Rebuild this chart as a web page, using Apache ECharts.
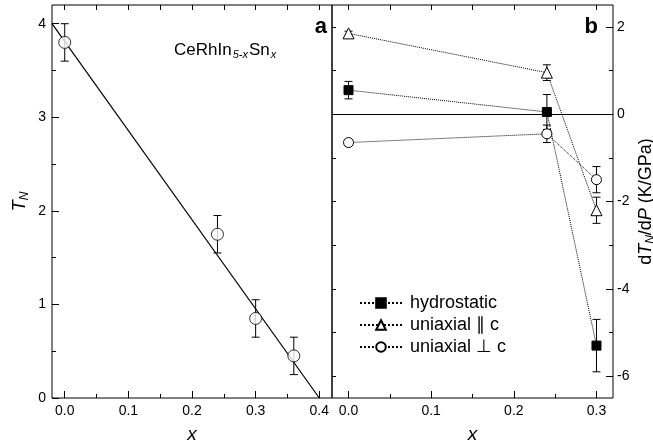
<!DOCTYPE html>
<html>
<head>
<meta charset="utf-8">
<script src="https://cdn.jsdelivr.net/npm/echarts@6/dist/echarts.min.js"></script>
<style>
html,body{margin:0;padding:0;background:#fff;}
#chart{width:653px;height:446px;}
</style>
</head>
<body>
<div id="chart"></div>
<script>
// ---- panel a : T_N vs x ----
var xA = [0, 0.24, 0.30, 0.36];
var tnA = [3.8, 1.75, 0.85, 0.45];
var tnErrA = [0.2, 0.2, 0.2, 0.2];
var fitX = [-0.02, 0.40];
var fitY = [4.0, 0.0];

// ---- panel b : dTN/dP vs x ----
var xB = [0, 0.24, 0.30];
var hydro = [0.55, 0.05, -5.3];
var hydroErr = [0.2, 0.4, 0.6];
var para = [1.85, 0.95, -2.2];
var paraErr = [0.05, 0.18, 0.3];
var perp = [-0.65, -0.45, -1.5];
var perpErr = [0.05, 0.2, 0.3];

// ticks
var xTicksA = [0, 0.1, 0.2, 0.3, 0.4];
var xMinorA = [0.05, 0.15, 0.25, 0.35];
var xTicksB = [0, 0.1, 0.2, 0.3];
var xMinorB = [0.05, 0.15, 0.25];
var yTicksA = [0, 1, 2, 3, 4];
var yMinorA = [0.5, 1.5, 2.5, 3.5];
var yTicksB = [-6, -4, -2, 0, 2];
var yMinorB = [-5, -3, -1, 1];

var FONT = 'Liberation Sans, Arial, sans-serif';

function fmt1(v){ return v.toFixed(1); }
function fmt0(v){ return v.toFixed(0); }

function makeAxis(grid, pos, min, max, ticks, len, labels, fmt){
	return {
		type: 'value', gridIndex: grid, position: pos, min: min, max: max,
		axisLine: {show: false, onZero: false},
		splitLine: {show: false},
		axisTick: {show: true, inside: true, length: len, customValues: ticks,
			lineStyle: {color: '#000', width: 1}},
		axisLabel: {show: !!labels, customValues: labels || [], formatter: fmt,
			color: '#000', fontSize: 14, fontFamily: FONT, margin: 6}
	};
}

function zip(xs, ys, es){
	var out = [];
	for (var i = 0; i < xs.length; i++) {
		out.push(es ? [xs[i], ys[i], es[i]] : [xs[i], ys[i]]);
	}
	return out;
}

// error bar with caps
function renderErr(params, api){
	var x = api.value(0), y = api.value(1), e = api.value(2);
	var top = api.coord([x, y + e]);
	var bot = api.coord([x, y - e]);
	var w = 4;
	var st = {stroke: '#000', lineWidth: 1};
	return {type: 'group', children: [
		{type: 'line', shape: {x1: top[0], y1: top[1], x2: bot[0], y2: bot[1]}, style: st},
		{type: 'line', shape: {x1: top[0] - w, y1: top[1], x2: top[0] + w, y2: top[1]}, style: st},
		{type: 'line', shape: {x1: bot[0] - w, y1: bot[1], x2: bot[0] + w, y2: bot[1]}, style: st}
	]};
}

var xAxA = makeAxis(0, 'bottom', -0.02, 0.42, xTicksA, 7, xTicksA, fmt1);
xAxA.name = 'x';
xAxA.nameLocation = 'middle';
xAxA.nameGap = 27;
xAxA.nameTextStyle = {fontStyle: 'italic', fontSize: 19, fontFamily: FONT, color: '#000'};
var xAxB = makeAxis(1, 'bottom', -0.02, 0.32, xTicksB, 7, xTicksB, fmt1);
xAxB.name = 'x';
xAxB.nameLocation = 'middle';
xAxB.nameGap = 27;
xAxB.nameTextStyle = {fontStyle: 'italic', fontSize: 19, fontFamily: FONT, color: '#000'};

var yAxA = makeAxis(0, 'left', 0, 4.2, yTicksA, 7, yTicksA, fmt0);
yAxA.name = '{i|T}{s|N}';
yAxA.nameLocation = 'middle';
yAxA.nameRotate = 90;
yAxA.nameGap = 22;
yAxA.nameTextStyle = {rich: {
	i: {fontStyle: 'italic', fontSize: 18, fontFamily: FONT, color: '#000', lineHeight: 20},
	s: {fontStyle: 'italic', fontSize: 12, fontFamily: FONT, color: '#000', lineHeight: 12, padding: [10, 0, 0, 0]}
}};
var yAxB = makeAxis(1, 'right', -6.5, 2.5, yTicksB, 7, yTicksB, fmt0);
yAxB.axisLabel.margin = 4;
yAxB.name = 'd{i|T}{s|N}/d{i|P} (K/GPa)';
yAxB.nameLocation = 'middle';
yAxB.nameRotate = 90;
yAxB.nameGap = 23;
yAxB.nameTextStyle = {fontSize: 18, fontFamily: FONT, color: '#000', lineHeight: 20, rich: {
	i: {fontStyle: 'italic', fontSize: 18, fontFamily: FONT, color: '#000', lineHeight: 20},
	s: {fontStyle: 'italic', fontSize: 12, fontFamily: FONT, color: '#000', lineHeight: 12, padding: [10, 0, 0, 0]}
}};

var chart = echarts.init(document.getElementById('chart'));
var option = {
	animation: false,
	backgroundColor: '#fff',
	grid: [
		{left: 52, top: 5, width: 280, height: 393, show: true, borderColor: '#000', borderWidth: 1,
			backgroundColor: 'transparent', containLabel: false, outerBoundsMode: 'none'},
		{left: 332, top: 5, width: 281, height: 393, show: true, borderColor: '#000', borderWidth: 1,
			backgroundColor: 'transparent', containLabel: false, outerBoundsMode: 'none'}
	],
	xAxis: [
		xAxA,
		makeAxis(0, 'bottom', -0.02, 0.42, xMinorA, 4),
		makeAxis(0, 'top', -0.02, 0.42, xTicksA.concat(xMinorA), 5),
		xAxB,
		makeAxis(1, 'bottom', -0.02, 0.32, xMinorB, 4),
		makeAxis(1, 'top', -0.02, 0.32, xTicksB.concat(xMinorB), 5)
	],
	yAxis: [
		yAxA,
		makeAxis(0, 'left', 0, 4.2, yMinorA, 4),
		yAxB,
		makeAxis(1, 'right', -6.5, 2.5, yMinorB, 4),
		makeAxis(1, 'left', -6.5, 2.5, yTicksB.concat(yMinorB), 4)
	],
	legend: {
		orient: 'vertical', left: 354, top: 289,
		itemWidth: 42, itemHeight: 12, itemGap: 4,
		data: ['hydrostatic', 'uniaxial \u2225 c', 'uniaxial \u22a5 c'],
		textStyle: {fontSize: 18, fontFamily: FONT, color: '#000', padding: [0, 0, 0, 3]}
	},
	graphic: [
		{type: 'text', x: 327, y: 38, style: {text: 'a', align: 'right', verticalAlign: 'bottom', font: 'bold 22px Liberation Sans', fill: '#000'}},
		{type: 'text', x: 598, y: 38, style: {text: 'b', align: 'right', verticalAlign: 'bottom', font: 'bold 22px Liberation Sans', fill: '#000'}},
		{type: 'text', x: 174, y: 50, style: {
			text: '{n|CeRhIn}{s|5-x}{n|Sn}{s|x}', verticalAlign: 'middle',
			rich: {
				n: {fontSize: 17, fontFamily: FONT, fill: '#000', lineHeight: 20},
				s: {fontSize: 11, fontStyle: 'italic', fontFamily: FONT, fill: '#000', lineHeight: 12, padding: [10, 1, 0, 1]}
			}
		}}
	],
	series: [
		{
			name: 'fit', type: 'line', xAxisIndex: 0, yAxisIndex: 0,
			data: zip(fitX, fitY), symbol: 'none', z: 2,
			lineStyle: {color: '#000', width: 1.2}
		},
		{
			type: 'custom', xAxisIndex: 0, yAxisIndex: 0, z: 3,
			data: zip(xA, tnA, tnErrA), renderItem: renderErr
		},
		{
			name: 'TN', type: 'scatter', xAxisIndex: 0, yAxisIndex: 0, z: 4,
			data: zip(xA, tnA), symbol: 'circle', symbolSize: 12,
			itemStyle: {color: '#fff', borderColor: '#000', borderWidth: 1}
		},
		{
			type: 'custom', xAxisIndex: 3, yAxisIndex: 2, z: 3,
			data: zip(xB, hydro, hydroErr).concat(zip(xB, para, paraErr), zip(xB, perp, perpErr)),
			renderItem: renderErr
		},
		{
			name: 'hydrostatic', type: 'line', xAxisIndex: 3, yAxisIndex: 2, z: 4,
			data: zip(xB, hydro), symbol: 'rect', symbolSize: 9,
			lineStyle: {type: 'dotted', color: '#000', width: 1},
			itemStyle: {color: '#000', borderColor: '#000', borderWidth: 1},
			markLine: {
				silent: true, symbol: 'none', label: {show: false},
				lineStyle: {type: 'solid', color: '#000', width: 1},
				data: [{yAxis: 0}]
			}
		},
		{
			name: 'uniaxial \u2225 c', type: 'line', xAxisIndex: 3, yAxisIndex: 2, z: 4,
			data: zip(xB, para), symbol: 'triangle', symbolSize: 11,
			lineStyle: {type: 'dotted', color: '#000', width: 1},
			itemStyle: {color: '#fff', borderColor: '#000', borderWidth: 1}
		},
		{
			name: 'uniaxial \u22a5 c', type: 'line', xAxisIndex: 3, yAxisIndex: 2, z: 4,
			data: zip(xB, perp), symbol: 'circle', symbolSize: 10,
			lineStyle: {type: 'dotted', color: '#000', width: 1},
			itemStyle: {color: '#fff', borderColor: '#000', borderWidth: 1}
		}
	]
};
chart.setOption(option);
</script>
</body>
</html>
